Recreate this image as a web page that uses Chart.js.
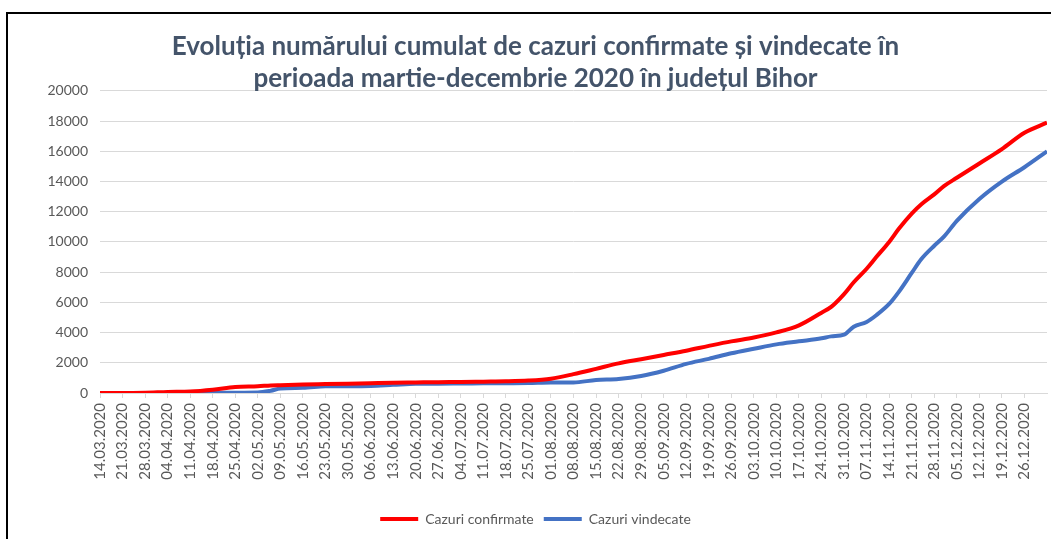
<!DOCTYPE html>
<html>
<head>
<meta charset="utf-8">
<script src="https://cdn.jsdelivr.net/npm/chart.js@4.4.1/dist/chart.umd.min.js"></script>
<style>
  html, body { margin: 0; padding: 0; background: #fff; overflow: hidden; }
  .frame { position: absolute; left: 6px; top: 12px; width: 1100px; height: 600px; border-left: 2px solid #000; border-top: 2px solid #000; }
  .wrap { position: absolute; left: 0; top: 0; width: 1051px; height: 539px; }
</style>
</head>
<body>
<div class="frame"></div>
<div class="wrap"><canvas id="chart" width="1051" height="539"></canvas></div>
<script>
// day offsets from 14.03.2020 at which values were read
const days = [0, 7, 14, 21, 28, 35, 42, 49, 53, 56, 63, 70, 77, 84, 91, 98, 105, 112, 119, 126,
  133, 140, 147, 154, 161, 168, 175, 182, 189, 196, 203, 210, 217, 224, 227, 231, 234, 238, 241, 245,
  248, 252, 255, 259, 262, 266, 273, 280, 287, 294];

const confirmed = [0, 5, 20, 70, 100, 220, 400, 450, 500, 520, 560, 590, 620, 650, 680, 700, 720, 730, 750, 770,
  820, 950, 1250, 1600, 1960, 2240, 2520, 2800, 3120, 3420, 3670, 4010, 4480, 5320, 5700, 6550, 7330, 8230, 9000, 10000,
  10870, 11880, 12500, 13150, 13700, 14250, 15200, 16150, 17230, 17900];

const recovered = [0, 0, 0, 5, 10, 15, 20, 30, 150, 300, 340, 440, 450, 470, 540, 610, 620, 630, 640, 650,
  660, 700, 700, 860, 920, 1120, 1470, 1930, 2260, 2630, 2930, 3220, 3420, 3620, 3750, 3860, 4390, 4700, 5150, 5900,
  6700, 7950, 8870, 9750, 10350, 11400, 12850, 14000, 14950, 16000];

const tickLabels = ['14.03.2020', '21.03.2020', '28.03.2020', '04.04.2020', '11.04.2020', '18.04.2020', '25.04.2020',
  '02.05.2020', '09.05.2020', '16.05.2020', '23.05.2020', '30.05.2020', '06.06.2020', '13.06.2020', '20.06.2020',
  '27.06.2020', '04.07.2020', '11.07.2020', '18.07.2020', '25.07.2020', '01.08.2020', '08.08.2020', '15.08.2020',
  '22.08.2020', '29.08.2020', '05.09.2020', '12.09.2020', '19.09.2020', '26.09.2020', '03.10.2020', '10.10.2020',
  '17.10.2020', '24.10.2020', '31.10.2020', '07.11.2020', '14.11.2020', '21.11.2020', '28.11.2020', '05.12.2020',
  '12.12.2020', '19.12.2020', '26.12.2020'];

const seriesNames = ['Cazuri confirmate', 'Cazuri vindecate'];
const titleLines = ['Evoluția numărului cumulat de cazuri confirmate și vindecate în',
  'perioada martie-decembrie 2020 în județul Bihor'];

const gray = '#595959';
const gridColor = '#D9D9D9';

const toPoints = vals => vals.map((v, i) => ({ x: days[i], y: v }));

new Chart(document.getElementById('chart').getContext('2d'), {
  type: 'line',
  data: {
    datasets: [
      { label: seriesNames[0], data: toPoints(confirmed), borderColor: '#FF0000', backgroundColor: '#FF0000',
        borderWidth: 4, pointRadius: 0, cubicInterpolationMode: 'monotone', pointStyle: 'line' },
      { label: seriesNames[1], data: toPoints(recovered), borderColor: '#4472C4', backgroundColor: '#4472C4',
        borderWidth: 4, pointRadius: 0, cubicInterpolationMode: 'monotone', pointStyle: 'line' }
    ]
  },
  options: {
    responsive: false,
    animation: false,
    layout: { padding: { left: 24, right: 4, top: 0, bottom: 3 } },
    plugins: {
      title: {
        display: true,
        text: titleLines,
        color: '#44546A',
        font: { family: 'Lato', size: 26, weight: 'bold', lineHeight: 1.23 },
        padding: { top: 31, bottom: -4 }
      },
      legend: {
        position: 'bottom',
        labels: {
          color: gray,
          font: { family: 'Lato', size: 14 },
          usePointStyle: true,
          pointStyleWidth: 38,
          padding: 10
        }
      },
      tooltip: { enabled: false }
    },
    scales: {
      x: {
        type: 'linear',
        min: 0,
        max: 294,
        afterBuildTicks: scale => { scale.ticks = tickLabels.map((_, i) => ({ value: i * 7 })); },
        afterFit: scale => { scale.height = 109; },
        ticks: {
          autoSkip: false,
          minRotation: 90,
          maxRotation: 90,
          padding: 5,
          color: gray,
          font: { family: 'Lato', size: 15 },
          callback: value => tickLabels[Math.round(value / 7)]
        },
        grid: { drawOnChartArea: false, color: gridColor, tickLength: 5 },
        border: { color: gridColor }
      },
      y: {
        min: 0,
        max: 20000,
        afterFit: scale => { scale.width = 76; },
        ticks: { stepSize: 2000, color: gray, font: { family: 'Lato', size: 14 }, padding: 12,
          callback: value => String(value) },
        grid: { color: gridColor, drawTicks: false },
        border: { display: false }
      }
    }
  }
});
</script>
</body>
</html>
